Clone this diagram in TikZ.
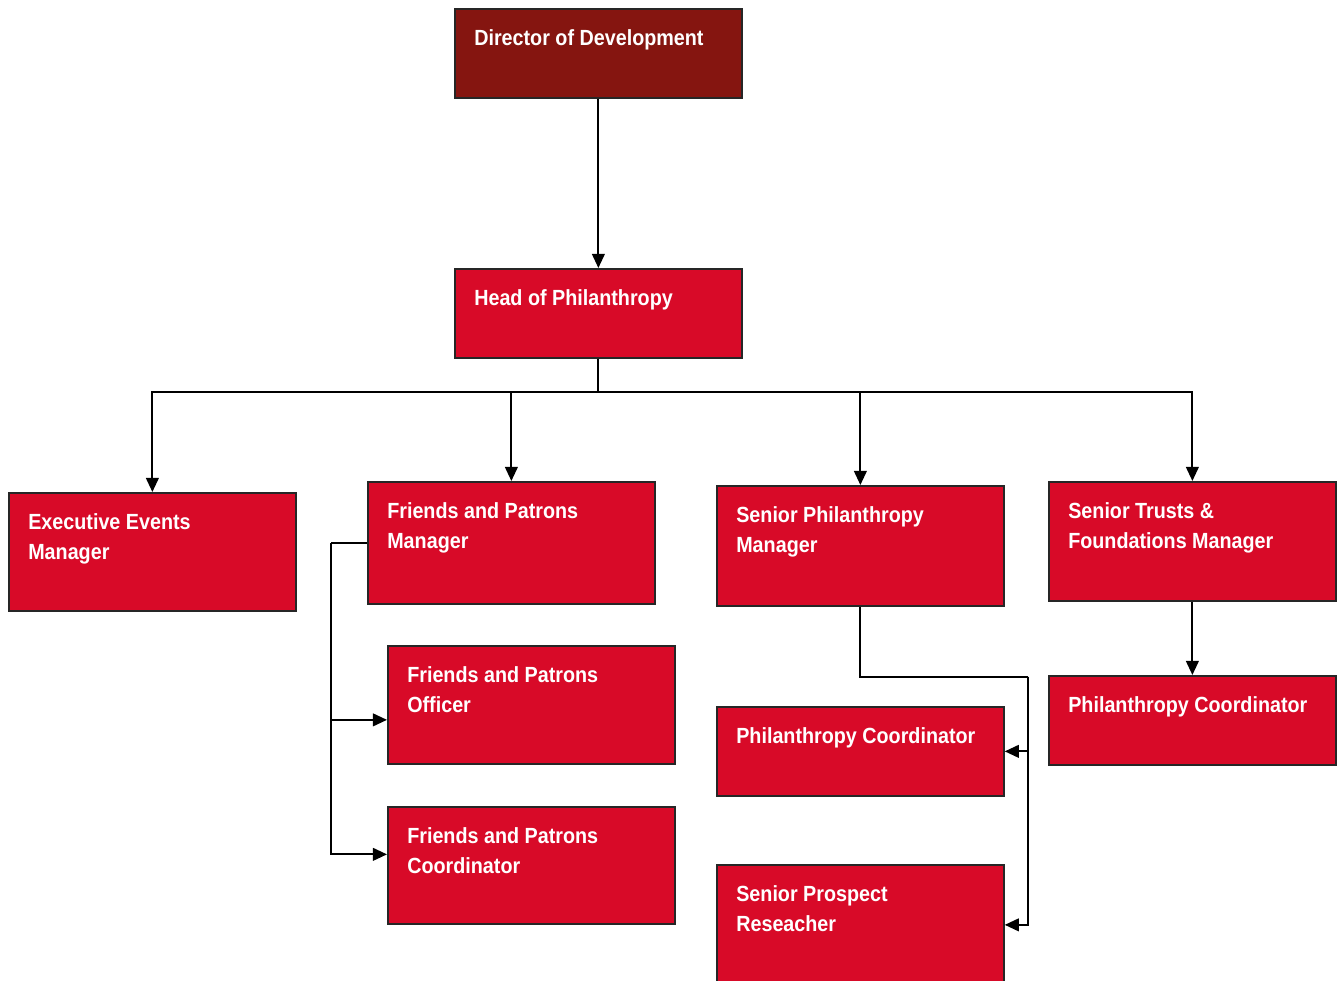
\documentclass[tikz,border=0pt]{standalone}
\usepackage{fontspec}
\setmainfont{Liberation Sans}[FakeStretch=0.9]
\usetikzlibrary{arrows.meta}
\definecolor{darkred}{RGB}{133,21,16}
\definecolor{postred}{RGB}{216,10,40}
\begin{document}
\begin{tikzpicture}[x=0.025cm,y=-0.025cm,>={Triangle[length=10pt,width=9pt]},
		post/.style={rectangle,draw=black!85,line width=1.2pt,fill=postred,anchor=north west,minimum width=7.175cm,minimum height=#1,inner sep=0pt},
		post/.default=2.225cm,
		lbl/.style={anchor=north west,text=white,align=left,inner sep=0pt,xshift=0.5cm,yshift=-0.525cm,
			font=\fontsize{15.6pt}{21.3pt}\selectfont\bfseries},
		link/.style={line width=1.4pt,draw=black}]
		\useasboundingbox (0,0) rectangle (1344,981);
		% top of the tree
		\node[post,fill=darkred] (dir)  at (454,8)   [label={[lbl]north west:Director of Development}] {};
		\node[post]              (head) at (454,268) [label={[lbl]north west:Head of Philanthropy}] {};
		% managers
		\node[post=2.95cm]  (exec) at (8,492)    [label={[lbl]north west:Executive Events\\Manager}] {};
		\node[post=3.05cm]  (fpm)  at (367,481)  [label={[lbl]north west:Friends and Patrons\\Manager}] {};
		\node[post=3.0cm]   (spm)  at (716,485)  [label={[lbl]north west:Senior Philanthropy\\Manager}] {};
		\node[post=2.975cm] (stf)  at (1048,481) [label={[lbl]north west:Senior Trusts \&\\Foundations Manager}] {};
		% staff
		\node[post=2.95cm]  (fpo)  at (387,645)  [label={[lbl]north west:Friends and Patrons\\Officer}] {};
		\node[post=2.925cm] (fpc)  at (387,806)  [label={[lbl]north west:Friends and Patrons\\Coordinator}] {};
		\node[post]         (pcm)  at (716,706)  [label={[lbl]north west:Philanthropy Coordinator}] {};
		\node[post=3.2cm]   (spr)  at (716,864)  [label={[lbl]north west:Senior Prospect\\Reseacher}] {};
		\node[post]         (pcr)  at (1048,675) [label={[lbl]north west:Philanthropy Coordinator}] {};
		
		\draw[link,->] (dir) -- (head);
		\draw[link] (head.south) -- ++(0,33) coordinate (bus);
		\draw[link,->] (bus) -| (exec.north);
		\draw[link,->] (bus) -| (fpm.north);
		\draw[link,->] (bus) -| (spm.north);
		\draw[link,->] (bus) -| (stf.north);
		\draw[link,->] (stf) -- (pcr);
		
		\draw[link] (fpm.west) -- ++(-36,0) coordinate (fpbar);
		\draw[link,->] (fpbar) |- ([yshift=-0.375cm]fpo.west);
		\draw[link,->] (fpbar) |- ([yshift=0.275cm]fpc.west);
		
		\draw[link] (spm.south) -- ++(0,70) -- ++(168,0) coordinate (spbar);
		\draw[link,->] (spbar) |- (pcm.east);
		\draw[link,->] (spbar) |- ([yshift=0.1cm]spr.east);
\end{tikzpicture}
\end{document}
